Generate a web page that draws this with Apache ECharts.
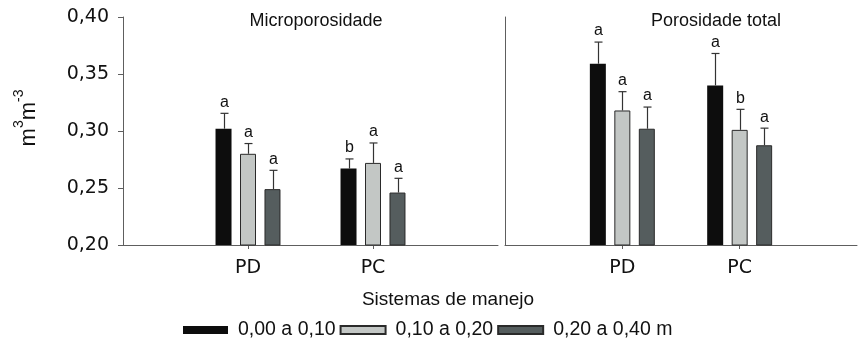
<!DOCTYPE html>
<html>
<head>
<meta charset="utf-8">
<script src="https://cdn.jsdelivr.net/npm/echarts@6/dist/echarts.min.js"></script>
<style>
  html, body { margin: 0; padding: 0; background: #fff; }
  #chart { width: 860px; height: 347px; }
</style>
</head>
<body>
<div id="chart"></div>
<script>
// values
const categories = ['', 'PD', 'PC', ''];
const depths = ['0,00 a 0,10', '0,10 a 0,20', '0,20 a 0,40 m'];
const yTicks = ['0,20', '0,25', '0,30', '0,35', '0,40'];

// Microporosidade: one array per depth, [PD, PC]
const microMean = [[0.302, 0.267], [0.280, 0.272], [0.249, 0.246]];
const microErr = [[0.0135, 0.0085], [0.009, 0.0175], [0.0165, 0.0125]];
const microLetter = [['a', 'b'], ['a', 'a'], ['a', 'a']];

// Porosidade total
const totalMean = [[0.359, 0.340], [0.318, 0.301], [0.302, 0.2875]];
const totalErr = [[0.019, 0.028], [0.0165, 0.018], [0.019, 0.015]];
const totalLetter = [['a', 'a'], ['a', 'b'], ['a', 'a']];

const colors = ['#0d0d0d', '#c3c7c5', '#555d5e'];
const font = 'Arial, "Liberation Sans", sans-serif';
const wideFont = '"DejaVu Sans", sans-serif';
const axisColor = '#5e5e5e';
const barW = 16;
const step = 24.5;

function xAxis(idx) {
    return {
        type: 'category',
        gridIndex: idx,
        data: categories,
        boundaryGap: false,
        axisLine: { lineStyle: { color: axisColor, width: 1 } },
        axisTick: {
            length: 4,
            lineStyle: { color: axisColor },
            interval: function (i, v) { return v !== ''; }
        },
        axisLabel: {
            color: '#111',
            fontSize: 19,
            fontFamily: wideFont,
            margin: 14,
            interval: 0
        }
    };
}

function yAxis(idx, showLabels) {
    return {
        type: 'value',
        gridIndex: idx,
        min: 0.20,
        max: 0.40,
        interval: 0.05,
        splitLine: { show: false },
        axisLine: { show: true, lineStyle: { color: axisColor, width: 1 } },
        axisTick: { show: showLabels, length: 5, lineStyle: { color: axisColor } },
        axisLabel: {
            show: showLabels,
            color: '#111',
            fontSize: 19,
            fontFamily: wideFont,
            margin: 14,
            formatter: function (v) { return yTicks[Math.round((v - 0.20) / 0.05)]; }
        }
    };
}

function errorSeries(panel, d, means, errs, letters) {
    const data = means[d].map(function (m, i) {
        return [i + 1, m, m + errs[d][i], letters[d][i]];
    });
    return {
        type: 'custom',
        xAxisIndex: panel,
        yAxisIndex: panel,
        silent: true,
        z: 5,
        data: data,
        renderItem: function (params, api) {
            const base = api.coord([api.value(0), api.value(1)]);
            const top = api.coord([api.value(0), api.value(2)]);
            const x = Math.round(base[0] + (d - 1) * step) + 0.5;
            return {
                type: 'group',
                children: [
                    { type: 'line', shape: { x1: x, y1: base[1], x2: x, y2: top[1] },
                      style: { stroke: '#333', lineWidth: 1.2 } },
                    { type: 'line', shape: { x1: x - 4, y1: top[1], x2: x + 4, y2: top[1] },
                      style: { stroke: '#333', lineWidth: 1.2 } },
                    { type: 'text', x: x, y: top[1] - 3,
                      style: { text: data[params.dataIndex][3], fill: '#111', fontSize: 16,
                               fontFamily: font, align: 'center', verticalAlign: 'bottom' } }
                ]
            };
        }
    };
}

const series = [];
[[microMean, microErr, microLetter], [totalMean, totalErr, totalLetter]].forEach(function (p, panel) {
    depths.forEach(function (name, d) {
        series.push({
            name: name,
            type: 'bar',
            xAxisIndex: panel,
            yAxisIndex: panel,
            barWidth: barW,
            barGap: '53%',
            data: ['-'].concat(p[0][d]).concat(['-']),
            itemStyle: {
                color: colors[d],
                borderColor: d === 0 ? colors[0] : '#2a2a2a',
                borderWidth: d === 0 ? 0 : 1
            }
        });
    });
});
[[microMean, microErr, microLetter], [totalMean, totalErr, totalLetter]].forEach(function (p, panel) {
    depths.forEach(function (name, d) {
        series.push(errorSeries(panel, d, p[0], p[1], p[2]));
    });
});

const chart = echarts.init(document.getElementById('chart'), null, { renderer: 'canvas' });
chart.setOption({
    animation: false,
    backgroundColor: '#fff',
    title: [
        { text: 'Microporosidade', left: 311, top: 7, textAlign: 'center',
          textStyle: { fontSize: 18, fontWeight: 'normal', color: '#111', fontFamily: font } },
        { text: 'Porosidade total', left: 711, top: 7, textAlign: 'center',
          textStyle: { fontSize: 18, fontWeight: 'normal', color: '#111', fontFamily: font } },
        { text: 'Sistemas de manejo', left: 443, top: 285, textAlign: 'center',
          textStyle: { fontSize: 19, fontWeight: 'normal', color: '#111', fontFamily: font } }
    ],
    graphic: [{
        type: 'text',
        x: 26,
        y: 118,
        rotation: Math.PI / 2,
        style: {
            text: '{b|m}{s|3}{b|m}{s|-3}',
            align: 'center',
            verticalAlign: 'middle',
            rich: {
                b: { fontSize: 22, fontFamily: font, fill: '#111', verticalAlign: 'bottom', lineHeight: 28 },
                s: { fontSize: 14, fontFamily: font, fill: '#111', verticalAlign: 'top', lineHeight: 28 }
            }
        }
    }],
    legend: {
        data: depths,
        left: 183,
        top: 320,
        padding: 0,
        itemWidth: 45,
        itemHeight: 8,
        itemGap: 4,
        icon: 'rect',
        textStyle: { fontSize: 19.5, color: '#111', fontFamily: font, padding: [0, 0, 0, 5] }
    },
    grid: [
        { left: 123, top: 17, width: 375, height: 228 },
        { left: 505, top: 17, width: 364, height: 228 }
    ],
    xAxis: [xAxis(0), xAxis(1)],
    yAxis: [yAxis(0, true), yAxis(1, false)],
    series: series
});
</script>
</body>
</html>
